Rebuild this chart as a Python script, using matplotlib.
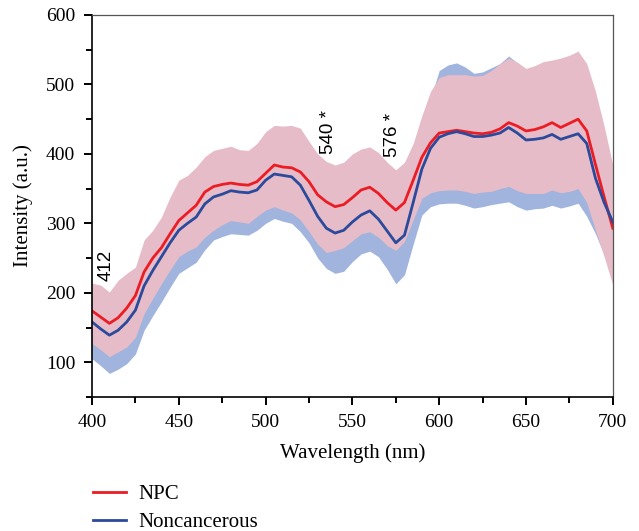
import numpy as np
import matplotlib
matplotlib.use("Agg")
import matplotlib.pyplot as plt
from matplotlib.ticker import MultipleLocator

# wavelength grid (nm)
wavelength = np.arange(400, 701, 5)

# mean spectra
npc_mean = [174, 165, 156, 164, 178, 196, 230, 250, 265, 285, 304, 315, 326, 345, 353, 356,
            358, 356, 355, 360, 372, 384, 381, 380, 374, 360, 341, 331, 324, 327, 337, 348,
            352, 343, 330, 319, 330, 362, 395, 416, 430, 432, 434, 432, 430, 429, 431, 436,
            445, 440, 433, 435, 439, 445, 438, 444, 450, 433, 385, 338, 293]
non_mean = [158, 148, 139, 146, 158, 175, 210, 232, 252, 272, 290, 300, 309, 328, 338, 342,
            347, 345, 344, 348, 362, 371, 369, 367, 355, 333, 310, 293, 286, 290, 302, 312,
            318, 306, 289, 272, 283, 330, 378, 408, 424, 429, 432, 429, 425, 425, 427, 430,
            438, 430, 420, 421, 423, 428, 421, 425, 429, 415, 365, 330, 302]

# shaded bands (mean +/- sd)
npc_hi = [214, 211, 201, 218, 228, 237, 276, 290, 309, 338, 362, 369, 381, 396, 405, 408,
          411, 406, 405, 415, 432, 441, 440, 441, 437, 418, 400, 389, 384, 388, 400, 407,
          410, 402, 388, 377, 388, 415, 455, 490, 510, 514, 514, 514, 512, 513, 520, 530,
          538, 532, 523, 527, 533, 535, 538, 542, 548, 530, 490, 440, 384]
npc_lo = [127, 118, 108, 115, 122, 136, 170, 192, 213, 233, 252, 260, 266, 280, 290, 298,
          304, 302, 300, 310, 319, 324, 319, 315, 305, 288, 270, 258, 261, 265, 275, 285,
          288, 280, 268, 261, 274, 305, 336, 344, 347, 348, 348, 346, 343, 345, 346, 350,
          353, 347, 343, 343, 343, 348, 344, 346, 350, 330, 290, 252, 211]
non_hi = [195, 190, 182, 195, 205, 215, 255, 270, 290, 318, 340, 348, 360, 375, 385, 390,
          392, 388, 387, 395, 410, 420, 418, 418, 410, 390, 370, 355, 348, 352, 362, 372,
          376, 366, 350, 335, 345, 380, 430, 480, 520, 528, 531, 525, 516, 518, 524, 530,
          541, 531, 518, 515, 515, 518, 512, 515, 520, 505, 460, 410, 370]
non_lo = [105, 95, 84, 90, 98, 112, 146, 167, 187, 208, 228, 236, 244, 262, 276, 281,
          285, 284, 283, 290, 300, 307, 303, 300, 288, 272, 250, 235, 228, 231, 245, 256,
          260, 252, 234, 213, 226, 270, 312, 324, 328, 329, 329, 326, 322, 324, 327, 329,
          331, 324, 319, 321, 322, 326, 322, 325, 329, 310, 285, 255, 230]

peak_pos = [408, 536, 573]
peak_y = [240, 432, 427]
peak_text = ["412", "540 *", "576 *"]

plt.rcParams['font.family'] = ['Liberation Serif', 'DejaVu Serif']

fig = plt.figure(figsize=(6.39, 5.31), dpi=100)
ax = fig.add_axes([0.144, 0.2524, 0.815, 0.7194])

ax.fill_between(wavelength, non_lo, non_hi, color='#a0b4dd', lw=0)
ax.fill_between(wavelength, npc_lo, npc_hi, color='#e6bcc8', lw=0)
ax.plot(wavelength, npc_mean, color='#ec1c24', lw=2.0, label='NPC')
ax.plot(wavelength, non_mean, color='#2b4a9b', lw=2.0, label='Noncancerous')

for xp, yp, t in zip(peak_pos, peak_y, peak_text):
    ax.text(xp, yp, t, rotation=90, ha='center', va='center', fontsize=13.5,
            family=['Liberation Sans', 'DejaVu Sans'])

ax.set_xlim(400, 700)
ax.set_ylim(50, 600)
ax.xaxis.set_major_locator(MultipleLocator(50))
ax.xaxis.set_minor_locator(MultipleLocator(25))
ax.yaxis.set_major_locator(MultipleLocator(100))
ax.yaxis.set_minor_locator(MultipleLocator(50))
ax.tick_params(which='major', direction='out', length=6, width=1.4, labelsize=14, pad=6)
ax.tick_params(which='minor', direction='out', length=4.5, width=1.4)
ax.tick_params(top=False, right=False)

for s in ['left', 'bottom']:
    ax.spines[s].set_linewidth(1.2)
    ax.spines[s].set_color('black')
for s in ['top', 'right']:
    ax.spines[s].set_linewidth(0.9)
    ax.spines[s].set_color('#555555')

ax.set_xlabel("Wavelength (nm)", fontsize=15, labelpad=9)
ax.set_ylabel("Intensity (a.u.)", fontsize=15, labelpad=9)

fig.legend(loc='upper left', bbox_to_anchor=(0.145, 0.087), frameon=False, fontsize=15,
           handlelength=1.6, handletextpad=0.6, labelspacing=0.4, borderpad=0,
           borderaxespad=0)

fig.savefig("out.png", dpi=100)
